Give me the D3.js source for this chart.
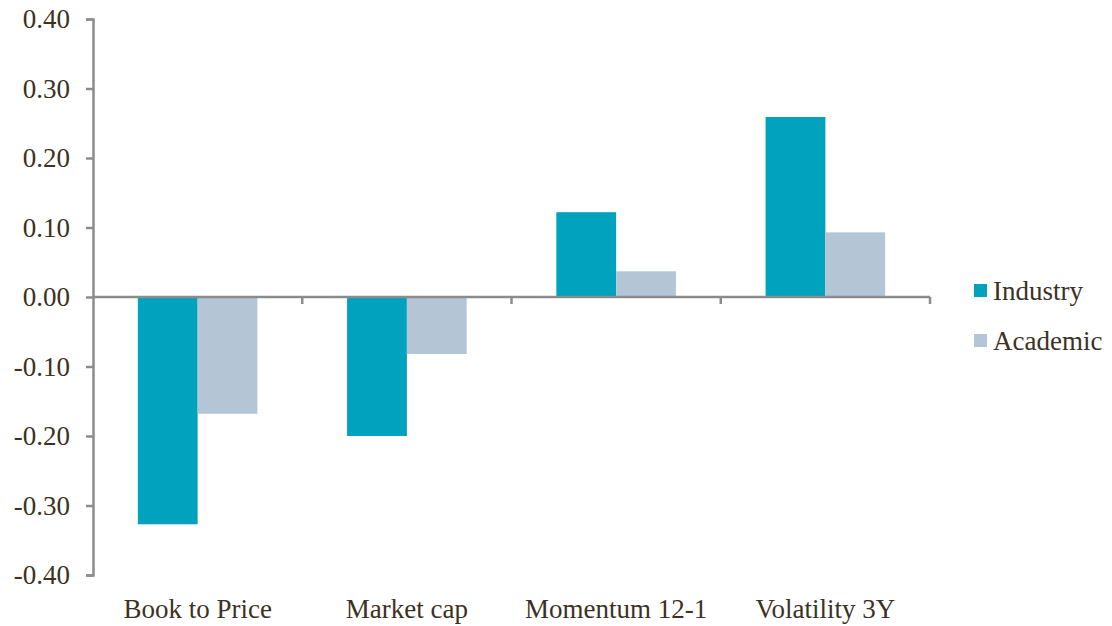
<!DOCTYPE html>
<html>
<head>
<meta charset="utf-8">
<script src="https://cdn.jsdelivr.net/npm/d3@7"></script>
</head>
<body style="margin:0">
<svg id="chart" width="1112" height="626"></svg>
<script>
const categories = ["Book to Price", "Market cap", "Momentum 12-1", "Volatility 3Y"];
const seriesNames = ["Industry", "Academic"];
const industry = [-0.327, -0.200, 0.122, 0.259];
const academic = [-0.168, -0.082, 0.037, 0.093];
const yTicks = [0.40, 0.30, 0.20, 0.10, 0.00, -0.10, -0.20, -0.30, -0.40];
const colors = ["#00a2bd", "#b4c6d6"];

const seriesValues = [industry, academic];

(function () {
const FONT = '"Times New Roman"';
const TXT = "#3b3224";
const FS = "27px";
const svg = d3.select("#chart");
const mLeft = 93, mRight = 930, mTop = 19, mBottom = 575;

const x = d3.scaleBand().domain(categories).range([mLeft, mRight]).padding(0);
const xs = d3.scaleBand().domain(seriesNames).range([0, x.bandwidth()])
  .paddingInner(0).paddingOuter(0.75);
const y = d3.scaleLinear().domain([-0.4, 0.4]).range([mBottom, mTop]);

const axisColor = "#8c8c8c";

// bars
seriesNames.forEach((s, si) => {
  svg.append("g").selectAll("rect")
    .data(categories.map((c, i) => ({ c, v: seriesValues[si][i] })))
    .join("rect")
    .attr("x", d => x(d.c) + xs(s))
    .attr("width", xs.bandwidth())
    .attr("y", d => y(Math.max(0, d.v)))
    .attr("height", d => Math.abs(y(d.v) - y(0)))
    .attr("fill", colors[si]);
});

// y axis (ticks and domain drawn by d3 axis, labels drawn as plain texts)
const fmt = d3.format(".2f");
const yAxis = d3.axisLeft(y).tickValues(yTicks).tickSize(7).tickFormat("");
const gy = svg.append("g").attr("transform", `translate(${mLeft},0)`).call(yAxis);
gy.select(".domain").attr("stroke", axisColor).attr("stroke-width", 2.5);
gy.selectAll(".tick line").attr("stroke", axisColor).attr("stroke-width", 2.5);

svg.selectAll("text.ylab").data(yTicks).join("text").attr("class", "ylab")
  .attr("x", mLeft - 23).attr("y", d => y(d)).attr("dy", "0.34em")
  .attr("text-anchor", "end")
  .style("font-family", FONT).style("font-size", FS).style("fill", TXT)
  .text(d => fmt(d).replace("\u2212", "-"));

// x axis at zero
const boundaries = categories.map(c => x(c) + x.bandwidth());
svg.append("line").attr("x1", mLeft).attr("x2", mRight).attr("y1", y(0)).attr("y2", y(0))
  .attr("stroke", axisColor).attr("stroke-width", 2.5);
svg.selectAll("line.tk").data(boundaries).join("line").attr("class", "tk")
  .attr("x1", d => d).attr("x2", d => d).attr("y1", y(0)).attr("y2", y(0) + 7)
  .attr("stroke", axisColor).attr("stroke-width", 2.5);

// category labels
svg.selectAll("text.cat").data(categories).join("text").attr("class", "cat")
  .attr("x", d => x(d) + x.bandwidth() / 2)
  .attr("y", 618)
  .attr("text-anchor", "middle")
  .style("font-family", FONT).style("font-size", FS).style("fill", TXT)
  .text(d => d);

// legend
seriesNames.forEach((s, i) => {
  const yy = 284 + i * 50;
  svg.append("rect").attr("x", 974).attr("y", yy).attr("width", 13).attr("height", 13).attr("fill", colors[i]);
  svg.append("text").attr("x", 993).attr("y", yy + 16)
    .style("font-family", FONT).style("font-size", FS).style("fill", TXT).text(s);
});
})();
</script>
</body>
</html>
